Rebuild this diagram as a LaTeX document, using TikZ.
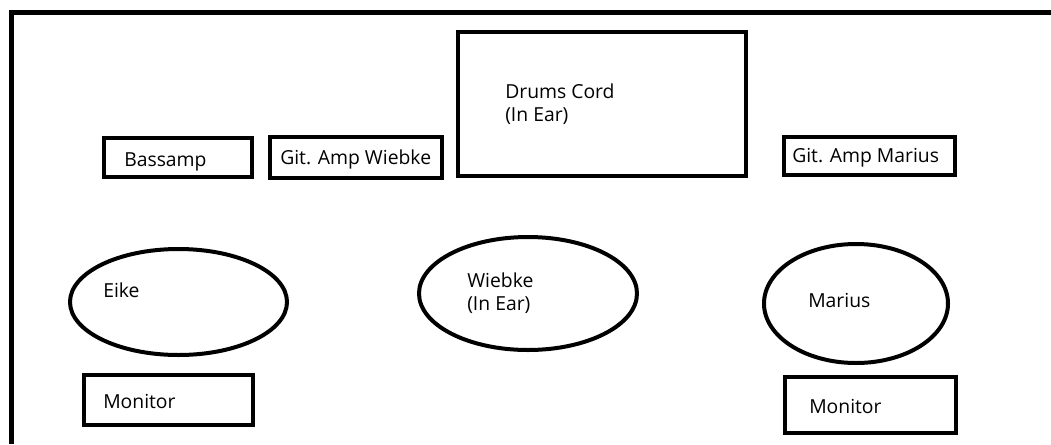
\documentclass[tikz,border=0pt]{standalone}
\usepackage{fontspec}
\setmainfont{Open Sans}
\usepackage{tikz}
\usetikzlibrary{shapes.geometric}
\tikzset{
    box/.style = {rectangle, draw=black, line width=3pt, inner sep=0pt},
    player/.style = {ellipse, draw=black, line width=3pt, inner sep=0pt},
    caption/.style = {anchor=base west, inner sep=0pt, align=left, font=\fontsize{14.5pt}{17.25pt}\selectfont},
    frame/.style = {draw=black, line width=3.75pt}
}

\begin{document}
\begin{tikzpicture}[x=0.75pt, y=-0.75pt]
    \useasboundingbox (0,0) rectangle (1051,444);

    % Stage edge
    \draw [frame] (1051,12.5) -- (11,12.5) -- (11,444);

    % Amps and drums
    \node [box, minimum width=111pt, minimum height=29.25pt] (bassamp) at (178,157.5) {};
    \node [box, minimum width=129pt, minimum height=30.75pt] (ampwiebke) at (356,157.5) {};
    \node [box, minimum width=216pt, minimum height=108pt] (drums) at (602,104) {};
    \node [box, minimum width=128.25pt, minimum height=28.5pt] (ampmarius) at (869.5,156) {};

    % Players
    \node [player, minimum width=162.75pt, minimum height=79.5pt] (eike) at (178.5,302) {};
    \node [player, minimum width=163.5pt, minimum height=84.75pt] (wiebke) at (528,293.5) {};
    \node [player, minimum width=138pt, minimum height=89.25pt] (marius) at (856,303.5) {};

    % Monitors
    \node [box, minimum width=126.75pt, minimum height=37.5pt] (moneike) at (168.5,400) {};
    \node [box, minimum width=128.25pt, minimum height=42pt] (monmarius) at (870.5,405) {};

    % Labels (multi-line ones sit on their last line)
    \node [caption] (bassamptext) at (124,166) {Bassamp};
    \node [caption] (ampwiebketext) at (280,164) {Git. Amp Wiebke};
    \node [caption] (drumstext) at (505,121) {Drums Cord\\(In Ear)};
    \node [caption] (ampmariustext) at (792,162) {Git. Amp Marius};
    \node [caption] (eiketext) at (103,297) {Eike};
    \node [caption] (wiebketext) at (467,310) {Wiebke\\(In Ear)};
    \node [caption] (mariustext) at (808,307) {Marius};
    \node [caption] (moneiketext) at (103,408) {Monitor};
    \node [caption] (monmariustext) at (809,413) {Monitor};
\end{tikzpicture}
\end{document}
